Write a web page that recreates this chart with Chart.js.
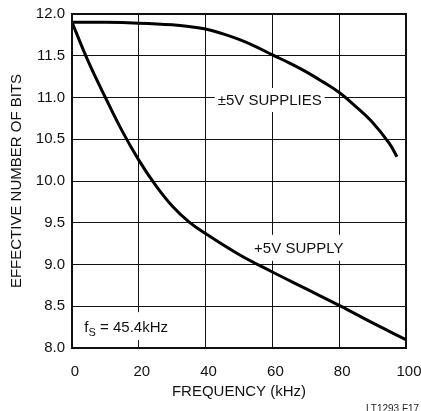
<!DOCTYPE html>
<html>
<head>
<meta charset="utf-8">
<script src="https://cdn.jsdelivr.net/npm/chart.js@4"></script>
<style>
  html, body { margin: 0; padding: 0; background: #fff; }
  #wrap { width: 421px; height: 411px; }
</style>
</head>
<body>
<div id="wrap"><canvas id="enobChart"></canvas></div>
<script>
// ±5V supplies
const freqDual = [0, 10, 20, 30, 35, 40, 45, 50, 55, 60, 65, 70, 75, 80, 85, 90, 95, 97.3];
const bitsDual = [11.9, 11.9, 11.89, 11.87, 11.85, 11.82, 11.765, 11.695, 11.61, 11.51, 11.415, 11.31, 11.19, 11.06, 10.89, 10.7, 10.45, 10.29];
// +5V supply
const freqSingle = [0, 5, 10, 15, 20, 25, 30, 35, 40, 50, 60, 70, 80, 90, 100];
const bitsSingle = [11.9, 11.42, 11.0, 10.6, 10.25, 9.95, 9.7, 9.51, 9.37, 9.12, 8.91, 8.71, 8.51, 8.3, 8.1];

const xMin = 0, xMax = 100, xStep = 20;
const yMin = 8, yMax = 12, yStep = 0.5;

const FONT = "'Liberation Sans', Arial, sans-serif";

function toPoints(xs, ys) {
  return xs.map((x, i) => ({ x: x, y: ys[i] }));
}

// text labels in data coordinates, with white boxes that break the grid
const notes = [
  { text: '±5V SUPPLIES', x: 59.2, y: 10.97, w: 110, h: 24 },
  { text: '+5V SUPPLY', x: 67.9, y: 9.2, w: 96, h: 26 }
];

const labelPlugin = {
  id: 'labels',
  beforeDatasetsDraw(chart) {
    const { ctx, scales: { x, y } } = chart;
    ctx.save();
    ctx.font = '15px ' + FONT;
    ctx.textAlign = 'center';
    ctx.textBaseline = 'middle';
    notes.forEach(n => {
      const px = x.getPixelForValue(n.x);
      const py = y.getPixelForValue(n.y);
      ctx.fillStyle = '#fff';
      ctx.fillRect(px - n.w / 2, py - n.h / 2, n.w, n.h);
      ctx.fillStyle = '#111';
      ctx.fillText(n.text, px, py + 1);
    });

    // sample rate note
    const fx = x.getPixelForValue(3.7);
    const fy = y.getPixelForValue(8.19);
    ctx.fillStyle = '#fff';
    ctx.fillRect(fx - 4, fy - 20, 94, 28);
    ctx.fillStyle = '#111';
    ctx.textAlign = 'left';
    ctx.textBaseline = 'alphabetic';
    ctx.font = '15px ' + FONT;
    ctx.fillText('f', fx, fy);
    let w = ctx.measureText('f').width;
    ctx.font = '11px ' + FONT;
    ctx.fillText('S', fx + w, fy + 4);
    w += ctx.measureText('S').width;
    ctx.font = '15px ' + FONT;
    ctx.fillText(' = 45.4kHz', fx + w, fy);
    ctx.restore();
  },
  afterDraw(chart) {
    const { ctx, chartArea: a } = chart;
    ctx.save();
    ctx.strokeStyle = '#111';
    ctx.lineWidth = 2;
    ctx.strokeRect(a.left, a.top, a.right - a.left, a.bottom - a.top);
    ctx.font = '10px ' + FONT;
    ctx.fillStyle = '#222';
    ctx.textAlign = 'left';
    ctx.textBaseline = 'top';
    ctx.fillText('LT1293 F17', 366, 404);
    ctx.restore();
  }
};

new Chart(document.getElementById('enobChart'), {
  type: 'line',
  data: {
    datasets: [
      {
        label: '±5V SUPPLIES',
        data: toPoints(freqDual, bitsDual),
        borderColor: '#000',
        borderWidth: 3,
        pointRadius: 0,
        tension: 0.4,
        fill: false
      },
      {
        label: '+5V SUPPLY',
        data: toPoints(freqSingle, bitsSingle),
        borderColor: '#000',
        borderWidth: 3,
        pointRadius: 0,
        tension: 0.4,
        fill: false
      }
    ]
  },
  options: {
    responsive: true,
    maintainAspectRatio: false,
    animation: false,
    events: [],
    layout: { padding: { top: 14, right: 15, left: 0, bottom: 0 } },
    plugins: {
      legend: { display: false },
      tooltip: { enabled: false }
    },
    scales: {
      x: {
        type: 'linear',
        min: xMin,
        max: xMax,
        afterFit(scale) {
          scale.height = 63;
          scale.paddingLeft = 0;
          scale.paddingRight = 0;
        },
        ticks: {
          stepSize: xStep,
          color: '#111',
          font: { family: FONT, size: 15 },
          padding: 15,
          labelOffset: 3,
          maxRotation: 0
        },
        grid: { color: '#111', lineWidth: 1, drawTicks: false },
        border: { display: false },
        title: {
          display: true,
          text: 'FREQUENCY (kHz)',
          color: '#111',
          font: { family: FONT, size: 15 },
          padding: { top: 0, bottom: 10 }
        }
      },
      y: {
        min: yMin,
        max: yMax,
        afterFit(scale) {
          scale.width = 72;
          scale.paddingTop = 0;
          scale.paddingBottom = 0;
        },
        ticks: {
          stepSize: yStep,
          color: '#111',
          font: { family: FONT, size: 15 },
          padding: 7,
          callback: v => v.toFixed(1)
        },
        grid: { color: '#111', lineWidth: 1, drawTicks: false },
        border: { display: false },
        title: {
          display: true,
          text: 'EFFECTIVE NUMBER OF BITS',
          color: '#111',
          font: { family: FONT, size: 15 },
          padding: { top: 8, bottom: 0 }
        }
      }
    }
  },
  plugins: [labelPlugin]
});
</script>
</body>
</html>
